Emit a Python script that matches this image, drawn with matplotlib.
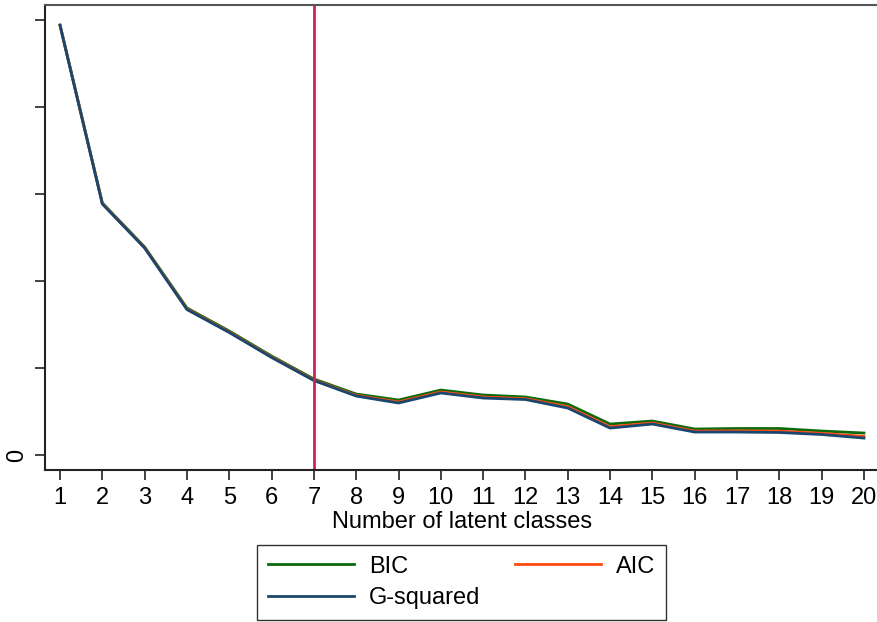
import numpy as np
import matplotlib.pyplot as plt

plt.rcParams['font.family'] = ['Liberation Sans', 'DejaVu Sans']

# Données (unités arbitraires, seul le 0 est étiqueté)
classes = np.arange(1, 21)
bic = [4943, 2897, 2391, 1690, 1425, 1138, 874, 701, 632, 747,
       690, 667, 586, 356, 391, 299, 305, 305, 276, 253]
aic = [4939, 2889, 2383, 1678, 1414, 1127, 862, 686, 610, 725,
       667, 648, 556, 326, 368, 276, 278, 274, 250, 215]
gsq = [4937, 2885, 2379, 1672, 1408, 1121, 856, 678, 598, 713,
       655, 638, 540, 310, 356, 264, 264, 259, 236, 195]
y_ticks = [0, 1000, 2000, 3000, 4000, 5000]
y_tick_labels = ['0', '', '', '', '', '']
chosen = 7

fig = plt.figure(figsize=(8.77, 6.22), dpi=100)
ax = fig.add_axes([45 / 877, 152 / 622, 1.0 - 45 / 877 + 0.002, 465 / 622])

l_bic, = ax.plot(classes, bic, color='#0b6b0b', lw=2, label='BIC')
l_aic, = ax.plot(classes, aic, color='#ff4a12', lw=2, label='AIC')
l_gsq, = ax.plot(classes, gsq, color='#1a476f', lw=2, label='G-squared')
ax.axvline(chosen, color='#d0205a', lw=2)

ax.set_xlim(0.645, 20.35)
ax.set_ylim(-172, 5172)
ax.set_xticks(classes)
ax.set_yticks(y_ticks)
ax.set_yticklabels(y_tick_labels, rotation=90, va='center')
ax.tick_params(axis='both', labelsize=17, length=7, width=1.3, color='#333333', pad=5)
ax.set_xlabel('Number of latent classes', fontsize=17, labelpad=2)

for s in ['left', 'bottom']:
    ax.spines[s].set_linewidth(1.5)
    ax.spines[s].set_color('#222222')
ax.spines['top'].set_color('#555555')
ax.spines['top'].set_linewidth(1.5)
ax.spines['right'].set_visible(False)

leg = fig.legend(handles=[l_bic, l_gsq, l_aic], ncol=2, fontsize=17,
                 loc='upper left', bbox_to_anchor=(257 / 877, 1 - 545 / 622),
                 frameon=True, fancybox=False, edgecolor='black',
                 handlelength=3.65, handletextpad=0.65, columnspacing=1.45,
                 borderpad=0.45, labelspacing=0.4, borderaxespad=0)
leg.get_frame().set_linewidth(1.0)

fig.savefig('out.png', dpi=100)
